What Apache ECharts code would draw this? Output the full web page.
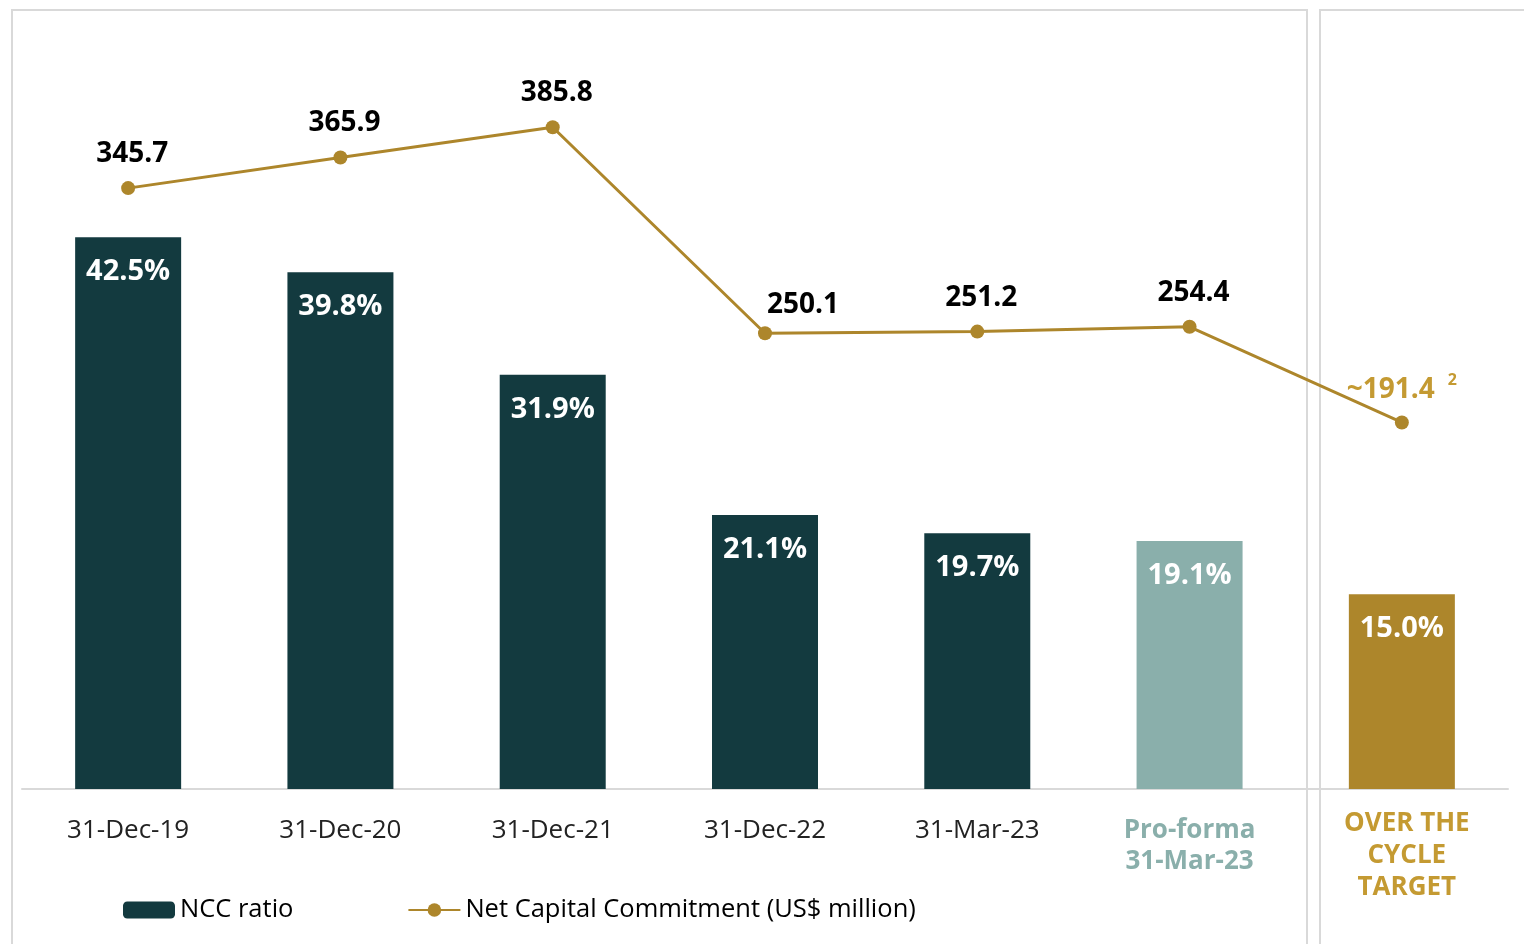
<!DOCTYPE html>
<html>
<head>
<meta charset="utf-8">
<script src="https://cdn.jsdelivr.net/npm/echarts@6/dist/echarts.min.js"></script>
<style>
  html, body { margin: 0; padding: 0; background: #fff; }
  #main { width: 1524px; height: 944px; }
</style>
</head>
<body>
<div id="main"></div>
<script>
// data
var categories = ["31-Dec-19", "31-Dec-20", "31-Dec-21", "31-Dec-22", "31-Mar-23", "Pro-forma\n31-Mar-23", "OVER THE\nCYCLE\nTARGET"];
var nccRatio = [42.5, 39.8, 31.9, 21.1, 19.7, 19.1, 15.0];
var netCapital = [345.7, 365.9, 385.8, 250.1, 251.2, 254.4, 191.4];

var DARK = "#133A3F";
var LIGHT = "#8AAFAB";
var GOLD = "#AD862B";
var GOLD_TXT = "#C49A32";
var FONT = "'Open Sans', 'Noto Sans', sans-serif";

var barColors = [DARK, DARK, DARK, DARK, DARK, LIGHT, GOLD];

var chartDom = document.getElementById("main");
var myChart = echarts.init(chartDom);
var option;

var catData = categories.map(function (c, i) {
  if (i === 5) {
    return { value: c, textStyle: { color: LIGHT, fontWeight: "bold" } };
  }
  if (i === 6) {
    return { value: c, textStyle: { color: GOLD_TXT, fontWeight: "bold", lineHeight: 32, padding: [-7, 0, 0, 10] } };
  }
  return c;
});

var barData = nccRatio.map(function (v, i) {
  return { value: v, itemStyle: { color: barColors[i] } };
});

var lineData = netCapital.map(function (v, i) {
  var item = { value: v };
  if (i === 3) {
    item.label = { offset: [38, 6] };
  }
  if (i === 6) {
    item.label = {
      formatter: "{a|~" + v.toFixed(1) + "}{s|2}",
      offset: [0, 6],
      rich: {
        a: { color: GOLD_TXT, fontSize: 28, fontWeight: "bold", fontFamily: FONT },
        s: { color: GOLD_TXT, fontSize: 16, fontWeight: "bold", fontFamily: FONT, padding: [0, 0, 20, 13] }
      }
    };
  }
  return item;
});

option = {
  backgroundColor: "#fff",
  animation: false,
  textStyle: { fontFamily: FONT },
  graphic: [
    {
      type: "polyline",
      shape: { points: [[12, 944], [12, 10], [1307, 10], [1307, 944]] },
      style: { stroke: "#D9D9D9", lineWidth: 2, fill: null }
    },
    {
      type: "polyline",
      shape: { points: [[1320, 944], [1320, 10], [1524, 10]] },
      style: { stroke: "#D9D9D9", lineWidth: 2, fill: null }
    }
  ],
  legend: {
    left: 123,
    top: 897,
    padding: 0,
    itemWidth: 52,
    itemHeight: 17,
    itemGap: 114,
    textStyle: { fontSize: 25.5, color: "#000", fontFamily: FONT },
    data: ["NCC ratio", "Net Capital Commitment (US$ million)"]
  },
  grid: { left: 22, right: 16, top: 10, bottom: 155 },
  xAxis: {
    type: "category",
    data: catData,
    axisLine: { lineStyle: { color: "#D9D9D9", width: 2 } },
    axisTick: { show: false },
    axisLabel: {
      interval: 0,
      margin: 26,
      fontSize: 26,
      color: "#222",
      lineHeight: 31,
      fontFamily: FONT
    }
  },
  yAxis: [
    { type: "value", min: 0, max: 60, show: false, splitLine: { show: false } },
    { type: "value", min: -50, max: 463, show: false, splitLine: { show: false } }
  ],
  series: [
    {
      name: "NCC ratio",
      type: "bar",
      barWidth: 106,
      itemStyle: { color: DARK },
      data: barData,
      label: {
        show: true,
        position: "insideTop",
        distance: 20,
        color: "#fff",
        fontSize: 29,
        fontWeight: "bold",
        fontFamily: FONT,
        formatter: function (p) { return p.value.toFixed(1) + "%"; }
      }
    },
    {
      name: "Net Capital Commitment (US$ million)",
      type: "line",
      yAxisIndex: 1,
      data: lineData,
      symbol: "circle",
      symbolSize: 14,
      itemStyle: { color: GOLD },
      lineStyle: { color: GOLD, width: 3 },
      label: {
        show: true,
        position: "top",
        distance: 13,
        offset: [4, 0],
        color: "#000",
        fontSize: 28,
        fontWeight: "bold",
        fontFamily: FONT,
        formatter: function (p) { return p.value.toFixed(1); }
      }
    }
  ]
};

option && myChart.setOption(option);
</script>
</body>
</html>
